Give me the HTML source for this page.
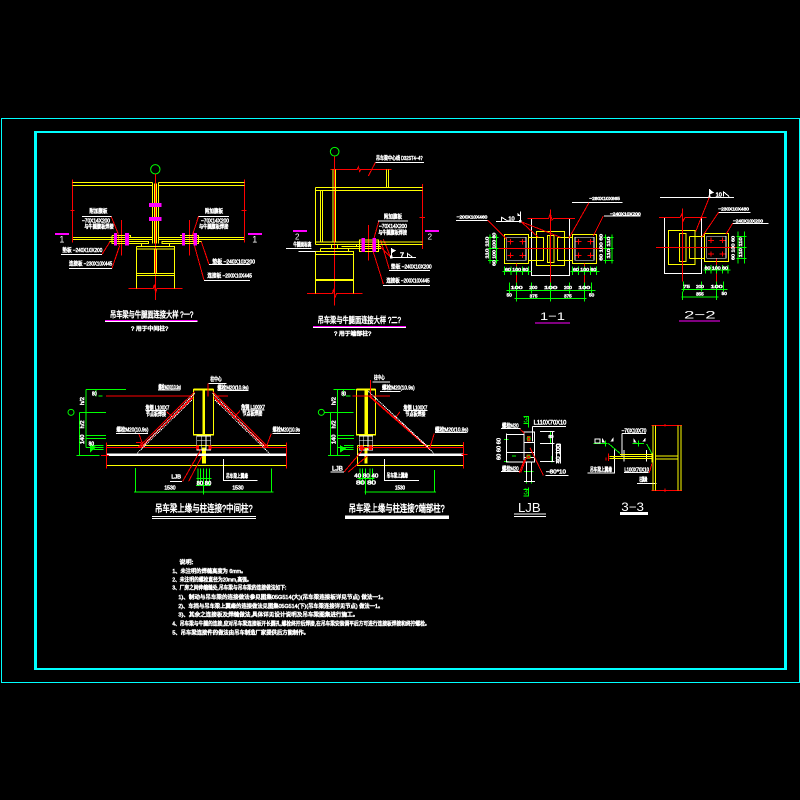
<!DOCTYPE html>
<html><head><meta charset="utf-8"><style>
html,body{margin:0;padding:0;background:#000;width:800px;height:800px;overflow:hidden}
svg{display:block}
text{font-family:"Liberation Sans","Noto Sans CJK SC",sans-serif;fill:#fff;stroke:#fff;stroke-width:1.6}
.y{stroke:#ff0;stroke-width:3;fill:none}
.r{stroke:#f00;stroke-width:3;fill:none}
.g{stroke:#0f0;stroke-width:3;fill:none}
.w{stroke:#fff;stroke-width:3;fill:none}
.m{fill:#f0f;stroke:none}
.l{font-size:17px}
.t{font-size:25px}
.c{font-family:"Liberation Sans",sans-serif;stroke-width:0;font-size:27px}
path,rect{shape-rendering:crispEdges}
</style></head><body>
<svg width="800" height="800" viewBox="0 0 800 800" xmlns="http://www.w3.org/2000/svg">
<rect width="800" height="800" fill="#000"/>
<rect x="1" y="118" width="799" height="1" fill="#0ff"/><rect x="1" y="682" width="799" height="1" fill="#0ff"/>
<rect x="1" y="118" width="1" height="565" fill="#0ff"/><rect x="799" y="118" width="1" height="565" fill="#0ff"/>
<rect x="34" y="131" width="753" height="2" fill="#0ff"/><rect x="34" y="668" width="753" height="2" fill="#0ff"/>
<rect x="34" y="131" width="3" height="539" fill="#0ff"/><rect x="784" y="131" width="3" height="539" fill="#0ff"/>

<!-- Panel 1 -->
<g transform="translate(40,140) scale(.3333)">
<circle cx="346" cy="88" r="14" class="g"/>
<path class="r" d="M346 102V480M97 118V308M91 212H103M614 118V308M604 212H620M244 240V347M448 240V347M265 445H340L343 434L347 458L351 445H428M213 228L234 280L238 320L216 385M186 343L210 305M476 228L456 290L492 420M484 305L507 373"/>
<path class="y" d="M97 127H338M97 136H338M355 127H614M355 136H614M338 127V310M343 130V310M350 130V310M356 127V310M99 292H337M99 299H337M356 292H612M356 299H612M216 286H272V292M216 286V310H326V304H208M420 286H476V292M476 286V310H366V304H484M304 310V320M389 310V320M289 320H404V445M289 320V445M289 327H404M289 400H404M289 407H404M343 327V400M349 327V400"/>
<rect class="m" x="327" y="189" width="38" height="12"/><rect class="m" x="327" y="231" width="38" height="12"/>
<rect class="m" x="222" y="279" width="9" height="38"/><rect class="m" x="255" y="279" width="12" height="38"/>
<rect class="m" x="426" y="279" width="9" height="38"/><rect class="m" x="461" y="279" width="10" height="38"/>
<rect class="m" x="45" y="279" width="42" height="6"/><rect class="m" x="624" y="279" width="42" height="6"/>
<path class="w" d="M126 229H215M476 229H567M63 343H186M87 385H216M507 373H632M492 421H630"/>
<text class="c" x="58" y="308">1</text><text class="c" x="637" y="308">1</text>
<text class="l" x="148" y="219" textLength="54" lengthAdjust="spacingAndGlyphs">附加腹板</text>
<text class="l" x="126" y="248" textLength="84" lengthAdjust="spacingAndGlyphs">−70X14X200</text>
<text class="l" x="133" y="266" textLength="88" lengthAdjust="spacingAndGlyphs">与牛腿腹板焊接</text>
<text class="l" x="495" y="219" textLength="54" lengthAdjust="spacingAndGlyphs">附加腹板</text>
<text class="l" x="483" y="248" textLength="84" lengthAdjust="spacingAndGlyphs">−70X14X200</text>
<text class="l" x="477" y="266" textLength="88" lengthAdjust="spacingAndGlyphs">与牛腿腹板焊接</text>
<text class="l" x="67" y="336" textLength="120" lengthAdjust="spacingAndGlyphs">垫板 −240X10X200</text>
<text class="l" x="87" y="377" textLength="130" lengthAdjust="spacingAndGlyphs">连接板 −230X10X445</text>
<text class="l" x="517" y="370" textLength="128" lengthAdjust="spacingAndGlyphs">垫板 −240X10X200</text>
<text class="l" x="502" y="413" textLength="134" lengthAdjust="spacingAndGlyphs">连接板 −200X10X445</text>
<text class="t" x="210" y="533" textLength="250" lengthAdjust="spacingAndGlyphs">吊车梁与牛腿面连接大样 ?一?</text>
<rect x="195" y="540" width="278" height="3" fill="#f0f"/><rect x="195" y="543" width="278" height="3" fill="#fff"/>
<text class="l" x="273" y="572" textLength="112" lengthAdjust="spacingAndGlyphs">? 用于中间柱?</text>
</g>

<!-- Panel 2 -->
<g transform="translate(270,140) scale(.3333)">
<circle cx="194" cy="35" r="13" class="g"/>
<path class="r" d="M193 50V497M181 88H262L265 80L269 95L272 88H365M295 108L316 68M457 132V327M448 232H465M111 460H187L190 450L195 472L200 460H278M295 255V362M326 245L305 320L340 432M332 300L358 388M325 315L362 352L340 298"/>
<path class="y" d="M136 142H458M136 151H458M136 142V314M151 151V306M158 151V306M189 88V306M197 88V306M349 88V142M356 88V142M136 306H458M136 314H458M184 314V325M203 314V325M268 300H325V335H268ZM214 320H333M214 325H333M259 314V320M151 325H236V334M151 325V334M136 334H251V460M136 334V460M136 343H251M136 418H251M136 422H251"/>
<rect class="m" x="274" y="294" width="11" height="42"/><rect class="m" x="308" y="294" width="10" height="42"/>
<rect class="m" x="69" y="270" width="42" height="6"/><rect class="m" x="465" y="270" width="42" height="6"/>
<path class="w" d="M316 67H462M324 243H414M48 325H125M85 334H136M362 352H438M357 391H480M339 436H480"/>
<path d="M364 324L378 332L364 340Z" fill="#fff"/><rect x="360" y="347" width="8" height="8" fill="#fff"/><path class="w" d="M364 324V350M412 352V340L428 352"/>
<text class="c" x="75" y="299" style="font-size:24px">2</text><text class="c" x="473" y="299" style="font-size:24px">2</text>
<text class="l" x="390" y="352" style="font-size:22px">7</text>
<text class="l" x="318" y="60" textLength="140" lengthAdjust="spacingAndGlyphs">吊车梁中心线 D32ST4−4?</text>
<text class="l" x="342" y="235" textLength="54" lengthAdjust="spacingAndGlyphs">附加腹板</text>
<text class="l" x="327" y="264" textLength="84" lengthAdjust="spacingAndGlyphs">−70X14X200</text>
<text class="l" x="325" y="283" textLength="86" lengthAdjust="spacingAndGlyphs">与牛腿腹板焊接</text>
<text class="l" x="70" y="320" textLength="54" lengthAdjust="spacingAndGlyphs">牛腿面标高</text>
<text class="l" x="363" y="385" textLength="122" lengthAdjust="spacingAndGlyphs">垫板 −240X10X200</text>
<text class="l" x="349" y="428" textLength="130" lengthAdjust="spacingAndGlyphs">连接板 −200X10X445</text>
<text class="t" x="143" y="549" textLength="250" lengthAdjust="spacingAndGlyphs">吊车梁与牛腿面连接大样 ?二?</text>
<rect x="129" y="558" width="279" height="3" fill="#f0f"/><rect x="129" y="561" width="279" height="3" fill="#fff"/>
<text class="l" x="192" y="587" textLength="112" lengthAdjust="spacingAndGlyphs">? 用于端部柱?</text>
</g>

<!-- Sections 1-1, 2-2 -->
<g transform="translate(450,180) scale(.3333)">
<path class="w" d="M18 121H113M138 125H212M366 67H518M462 108H572M244 115V287H358V115M630 52H852M805 97H902M848 130H956M643 112V281H755V112"/>
<path class="y" d="M163 163H236V251H163ZM259 154H344V257H259ZM292 166H312V248H292ZM300 166V248M367 163H440V251H367ZM236 172H281V241H236M322 172H367M322 241H367M322 172V241M655 151H735V253H655ZM688 160H708V245H688ZM718 169H763M718 235H763M718 169V235M763 160H836V244H763Z"/>
<path class="w" d="M170 172H228V241H170ZM375 172H432V241H375ZM770 169H828V235H770Z" style="stroke-width:2"/>
<path class="r" d="M232 115H296L301 100L306 120L311 115H375M302 88V308M143 205H460M113 121L170 178M213 125L265 172M213 125L332 172M356 176L417 68M430 168L460 108M627 113H690L695 103L700 122L705 113H770M697 85V305M618 202H860M800 235V305M199 251V308M403 251V308M737 155L778 52M755 172L806 97M828 163L848 130"/>
<g class="r"><path d="M172 185H190M181 177V193M208 185H226M217 177V193M172 226H190M181 218V234M208 226H226M217 218V234M376 185H394M385 177V193M412 185H430M421 177V193M376 226H394M385 218V234M412 226H430M421 218V234M774 181H792M783 173V189M808 181H826M817 173V189M774 222H792M783 214V230M808 222H826M817 214V230"/></g>
<path class="g" d="M114 172H145M114 205H145M114 241H145M120 163V250M140 163V250M460 172H490M460 205H490M460 241H490M466 163V250M486 163V250M158 275H244M163 260V285M183 260V285M199 260V285M217 260V285M236 260V285M362 275H448M367 260V285M385 260V285M403 260V285M421 260V285M440 260V285M170 331H436M178 308V340M199 308V340M244 308V340M302 308V365M358 308V340M403 308V340M425 308V340M193 355H410M199 340V365M403 340V365M860 169H890M860 202H890M860 235H890M864 155V250M884 155V250M760 270H842M766 255V280M783 255V280M800 255V280M817 255V280M834 255V280M694 328H832M700 305V335M755 305V335M800 305V335M820 305V335M694 351H806M697 335V360M800 335V360"/>
<g class="l" style="font-size:14px">
<text x="20" y="115" textLength="92" lengthAdjust="spacingAndGlyphs">−200X10X460</text>
<text x="418" y="60" textLength="92" lengthAdjust="spacingAndGlyphs">−280X10X665</text>
<text x="480" y="106" textLength="92" lengthAdjust="spacingAndGlyphs">−240X10X200</text>
<text x="805" y="91" textLength="92" lengthAdjust="spacingAndGlyphs">−230X10X480</text>
<text x="849" y="127" textLength="90" lengthAdjust="spacingAndGlyphs">−240X10X200</text>
<text x="165" y="273" textLength="70" lengthAdjust="spacingAndGlyphs">60 100 60</text>
<text x="369" y="273" textLength="70" lengthAdjust="spacingAndGlyphs">60 100 60</text>
<text x="764" y="268" textLength="70" lengthAdjust="spacingAndGlyphs">60 100 60</text>
<text x="182" y="327" textLength="36" lengthAdjust="spacingAndGlyphs">100</text>
<text x="238" y="327" textLength="24" lengthAdjust="spacingAndGlyphs">200</text>
<text x="282" y="327" textLength="40" lengthAdjust="spacingAndGlyphs">100</text>
<text x="342" y="327" textLength="24" lengthAdjust="spacingAndGlyphs">200</text>
<text x="385" y="327" textLength="36" lengthAdjust="spacingAndGlyphs">100</text>
<text x="170" y="350">50</text><text x="417" y="350">50</text>
<text x="239" y="352">375</text><text x="342" y="352">375</text>
<text x="700" y="324" textLength="20" lengthAdjust="spacingAndGlyphs">75</text>
<text x="738" y="324" textLength="24" lengthAdjust="spacingAndGlyphs">200</text>
<text x="782" y="324" textLength="36" lengthAdjust="spacingAndGlyphs">100</text>
<text x="815" y="345">50</text><text x="738" y="347">355</text>
<text transform="translate(116,236) rotate(-90)" textLength="66" lengthAdjust="spacingAndGlyphs">110 110</text>
<text transform="translate(136,258) rotate(-90)" textLength="100" lengthAdjust="spacingAndGlyphs">60 100 100 60</text>
<text transform="translate(458,242) rotate(-90)" textLength="80" lengthAdjust="spacingAndGlyphs">60 100 60</text>
<text transform="translate(480,236) rotate(-90)" textLength="66" lengthAdjust="spacingAndGlyphs">110 110</text>
<text transform="translate(854,240) rotate(-90)" textLength="72" lengthAdjust="spacingAndGlyphs">60 100 60</text>
<text transform="translate(876,232) rotate(-90)" textLength="60" lengthAdjust="spacingAndGlyphs">110 110</text>
</g>
<path d="M203 98L212 108L203 108Z" fill="#fff"/><rect x="207" y="120" width="7" height="8" fill="#fff"/><path class="w" d="M212 95V125M155 124V112L175 124"/>
<text class="l" x="175" y="122">10</text>
<path d="M778 27L792 38L778 44Z" fill="#fff"/><rect x="776" y="46" width="6" height="7" fill="#fff"/><path class="w" d="M779 27V50M820 50V35L838 50"/>
<text class="l" x="797" y="49">10</text>
<text class="c" x="270" y="420" textLength="75" lengthAdjust="spacingAndGlyphs" style="font-size:34px">1−1</text>
<rect class="m" x="255" y="427" width="105" height="4"/>
<text class="c" x="702" y="415" textLength="95" lengthAdjust="spacingAndGlyphs" style="font-size:34px">2−2</text>
<rect class="m" x="687" y="421" width="123" height="4"/>
</g>

<!-- Panel 3 -->
<g transform="translate(70,370) scale(.3333)">
<path class="g" d="M48 58H168M78 58V80M85 78H98M28 127H108M48 58V232M28 127V256M20 256H88M48 196H108M48 206H108M48 232H72M72 226H100M72 232H100M72 238H100M196 294V366M604 295V366M400 296V374M192 366H610M378 347H422M384 296V344M392 296V344M410 296V344M418 296V344M380 325H424"/>
<circle cx="3" cy="127" r="9" class="g"/>
<path d="M60 218L78 232L60 248Z" fill="#0f0"/>
<path class="y" d="M370 58H431V195H370ZM110 226H650M110 286H650" />
<path d="M398 58H405V195H398Z" fill="#ff0"/>
<path d="M396 232H408V280H396Z" fill="#ff0"/>
<path d="M370 56H431V61H370ZM370 192H431V197H370Z" fill="#ff0"/>
<path class="w" d="M380 198H422V240H380ZM394 198V240M408 198V240M380 212H422" style="stroke-width:2"/>
<path d="M110 251H650V258H110Z" fill="#fff"/>
<path class="r" d="M108 78H372M430 78H474M110 232H380M422 232H650M110 217V296M649 217V296M93 257H117M414 41V80M198 217H212L214 232M206 190L220 228M604 190L590 228H584M338 334L392 240M356 334L396 258M290 125L310 143M510 122L490 145M374 65L205 232M428 65L595 232M367 82L215 232M434 82L585 232"/>
<rect x="378" y="226" width="9" height="12" fill="#f00"/><rect x="415" y="226" width="9" height="12" fill="#f00"/>
<path d="M369 83L214 230M433 83L586 230" stroke="#f00" stroke-width="4" fill="none"/>
<path d="M366 90L201 250M435 90L598 250M374 70L218 228M428 70L582 228" stroke="#fff" stroke-width="2.5" stroke-dasharray="4 2" fill="none"/>
<path class="w" d="M415 40H470M264 60H330M442 62H535M138 190H234M608 190H690M226 122H290M514 120H584M300 334H336M460 267V332H563"/>
<g class="l">
<text x="421" y="33" textLength="34" lengthAdjust="spacingAndGlyphs">柱中心</text>
<text x="265" y="57" textLength="68" lengthAdjust="spacingAndGlyphs">螺栓M20(10.9s)</text>
<text x="442" y="59" textLength="94" lengthAdjust="spacingAndGlyphs">螺栓M20(10.9s)</text>
<text x="139" y="184" textLength="96" lengthAdjust="spacingAndGlyphs">螺栓M20(10.9s)</text>
<text x="608" y="184" textLength="82" lengthAdjust="spacingAndGlyphs">螺栓M20(10.9s</text>
<text x="226" y="118" textLength="72" lengthAdjust="spacingAndGlyphs">角钢 L100X7</text>
<text x="228" y="138" textLength="60" lengthAdjust="spacingAndGlyphs">节点板焊接</text>
<text x="513" y="117" textLength="72" lengthAdjust="spacingAndGlyphs">角钢 L100X7</text>
<text x="517" y="136" textLength="60" lengthAdjust="spacingAndGlyphs">节点板焊接</text>
<text x="304" y="326">LJB</text>
<text x="468" y="324" textLength="66" lengthAdjust="spacingAndGlyphs">吊车梁上翼缘</text>
<text x="283" y="358" textLength="34" lengthAdjust="spacingAndGlyphs">1530</text>
<text x="487" y="358" textLength="34" lengthAdjust="spacingAndGlyphs">1530</text>
<text x="380" y="345" textLength="44" lengthAdjust="spacingAndGlyphs">80 80</text>
<text x="66" y="76" textLength="14" lengthAdjust="spacingAndGlyphs">80</text>
<text transform="translate(42,105) rotate(-90)">h/2</text>
<text transform="translate(42,175) rotate(-90)">h/2</text>
<text transform="translate(42,222) rotate(-90)">140</text>
<text x="56" y="226" textLength="16" lengthAdjust="spacingAndGlyphs">80</text>
</g>
<text class="t" x="255" y="426" textLength="293" lengthAdjust="spacingAndGlyphs" style="font-size:30px">吊车梁上缘与柱连接?中间柱?</text>
<path class="w" d="M246 439H558M246 445H558"/>
</g>

<!-- Panel 4 -->
<g transform="translate(300,370) scale(.3333)">
<path class="g" d="M100 58H166M130 58V80M138 78H152M72 127H160M112 58V256M92 127V256M84 256H150M112 196H162M112 206H162M112 232H136M132 226H160M132 232H160M132 238H160M404 300V366M193 366H408M197 296V374M180 296V344M188 296V344M210 296V344M218 296V344M172 325H224"/>
<circle cx="64" cy="127" r="9" class="g"/>
<path d="M120 225L138 236L120 248Z" fill="#0f0"/>
<path class="y" d="M169 58H226V195H169ZM172 226V286H490M172 226H490"/>
<path d="M194 58H204V195H194ZM194 232H202V280H194ZM169 56H226V61H169ZM169 192H226V197H169Z" fill="#ff0"/>
<path d="M172 251H490V258H172Z" fill="#fff"/>
<path class="w" d="M178 198H218V240H178ZM191 198V240M204 198V240M178 212H218" style="stroke-width:2"/>
<path class="r" d="M158 78H270M212 30V80M172 232H490M490 216V296M484 253H502M132 306L192 235M145 306L202 258M403 190L390 232M300 125L285 145"/>
<path d="M208 78L390 238" stroke="#f00" stroke-width="5" fill="none"/>
<rect x="178" y="226" width="11" height="14" fill="#f00"/><rect x="207" y="226" width="11" height="14" fill="#f00"/>
<path d="M205 64L386 232M222 80L402 250" stroke="#fff" stroke-width="2.5" stroke-dasharray="4 2" fill="none"/>
<path class="w" d="M218 36H270M240 64H302M405 187H500M310 122H382M92 306H132M253 267V332H357"/>
<g class="l">
<text x="222" y="29" textLength="32" lengthAdjust="spacingAndGlyphs">柱中心</text>
<text x="246" y="58" textLength="98" lengthAdjust="spacingAndGlyphs">螺栓M20(10.9s)</text>
<text x="405" y="184" textLength="100" lengthAdjust="spacingAndGlyphs">螺栓M20(10.9s)</text>
<text x="310" y="118" textLength="72" lengthAdjust="spacingAndGlyphs">角钢 L100X7</text>
<text x="316" y="138" textLength="60" lengthAdjust="spacingAndGlyphs">节点板焊接</text>
<text x="96" y="301" style="font-size:19px">LJB</text>
<text x="260" y="323" textLength="64" lengthAdjust="spacingAndGlyphs">吊车梁上翼缘</text>
<text x="285" y="359" textLength="30" lengthAdjust="spacingAndGlyphs">1530</text>
<text x="163" y="323" textLength="72" lengthAdjust="spacingAndGlyphs">40 80 40</text>
<text x="168" y="343" textLength="60" lengthAdjust="spacingAndGlyphs">80 80</text>
<text x="124" y="76" textLength="14" lengthAdjust="spacingAndGlyphs">80</text>
<text transform="translate(106,105) rotate(-90)">h/2</text>
<text transform="translate(106,175) rotate(-90)">h/2</text>
<text transform="translate(106,222) rotate(-90)">140</text>
</g>
<text x="146" y="426" textLength="288" lengthAdjust="spacingAndGlyphs" style="font-size:30px">吊车梁上缘与柱连接?端部柱?</text>
<rect x="135" y="437" width="312" height="10" fill="#fff"/>
</g>

<!-- LJB and 3-3 -->
<g transform="translate(480,400) scale(.3333)">
<path class="g" d="M130 50H146V82M130 70H146M130 288H146V262M130 268H146M72 118H85M72 184H85M96 168H108M212 95V130M216 168V188M132 215H160M135 245H165M140 200V250M155 200V250"/>
<path class="g" d="M340 130H382M458 130H492M376 122V140M476 122V140M385 130L420 160M500 132L518 165"/>
<path class="w" d="M79 100V186H132M79 104H132M79 158H132M180 95H224M180 130H224M180 184H224M218 95V184M157 80V125M157 80H258M197 226H266M63 85H122M63 215H118M229 132V190M241 132V190M229 132H241M345 117H360V129H345ZM322 219H404V148M426 100V170H500M426 100H498M432 217H506M471 250H530M432 150V185M499 150V185M132 96H163V186H132ZM132 127H163M132 158H163M132 172H163M140 186V245M155 186V245M132 245H165"/>
<path d="M366 113L376 128L366 128ZM400 112L392 124H400ZM460 113L470 128H460ZM497 112L488 124H497Z" fill="#fff"/>
<path class="r" d="M514 76H606M514 271H606M555 72V80M555 266V276M120 88L133 100M118 218L133 180M150 143L190 226M122 218L140 170M378 172V182M385 160V183M508 218L516 190"/>
<rect x="141" y="108" width="10" height="17" fill="#f00"/><rect x="139" y="163" width="13" height="14" fill="#f00"/>
<circle cx="146" cy="116" r="5" fill="none" stroke="#0f0" stroke-width="2"/><circle cx="146" cy="170" r="5" fill="none" stroke="#0f0" stroke-width="2"/>
<path class="y" d="M519 76V271M527 76V271M594 76V271M603 76V271M527 168H594M527 177H594M388 170H516M388 176H516M420 163H516M402 176V170M448 176H402M486 176H516M516 160V188"/>
<g class="l">
<text x="66" y="82" textLength="50" lengthAdjust="spacingAndGlyphs">螺栓M20</text>
<text x="66" y="212" textLength="50" lengthAdjust="spacingAndGlyphs">螺栓M20</text>
<text x="161" y="74" textLength="98" lengthAdjust="spacingAndGlyphs" style="font-size:20px">L110X70X10</text>
<text x="198" y="221" textLength="60" lengthAdjust="spacingAndGlyphs">−80*10</text>
<text x="425" y="98" textLength="74" lengthAdjust="spacingAndGlyphs">−70X10X70</text>
<text x="330" y="214" textLength="66" lengthAdjust="spacingAndGlyphs">吊车梁上翼缘</text>
<text x="433" y="215" textLength="74" lengthAdjust="spacingAndGlyphs">L100X70X10</text>
<text x="478" y="244" textLength="24" lengthAdjust="spacingAndGlyphs">柱翼缘</text>
<text transform="translate(61,180) rotate(-90)" textLength="66" lengthAdjust="spacingAndGlyphs">60 60 60</text>
<text transform="translate(240,190) rotate(-90)" textLength="58" lengthAdjust="spacingAndGlyphs">40 100</text>
<text x="205" y="114" style="font-size:14px">80</text>
</g>
<text class="c" x="114" y="336" textLength="68" lengthAdjust="spacingAndGlyphs" style="font-size:38px">LJB</text>
<path class="w" d="M102 342H198M102 349H198"/>
<text class="c" x="424" y="333" textLength="68" lengthAdjust="spacingAndGlyphs" style="font-size:36px">3−3</text>
<rect x="420" y="336" width="84" height="9" fill="#fff"/>
<text class="c" x="130" y="68" style="fill:#0f0;font-size:24px">3</text>
<text class="c" x="130" y="284" style="fill:#0f0;font-size:24px">3</text>
</g>

<!-- Notes -->
<g transform="translate(165,555) scale(.3333)">
<g style="font-size:17px">
<text x="43" y="27" textLength="42" lengthAdjust="spacingAndGlyphs">说明:</text>
<text x="22" y="54" textLength="222" lengthAdjust="spacingAndGlyphs">1、未注明的焊缝高度为 6mm。</text>
<text x="22" y="80" textLength="238" lengthAdjust="spacingAndGlyphs">2、未注明的螺栓直径为20mm,高强。</text>
<text x="22" y="104" textLength="342" lengthAdjust="spacingAndGlyphs">3、厂房之间伸缩缝处,吊车梁与吊车梁的连接做法如下:</text>
<text x="40" y="132" textLength="625" lengthAdjust="spacingAndGlyphs">1)、制动与吊车梁的连接做法参见图集05G514(大)(吊车梁连接板详见节点) 做法一1。</text>
<text x="40" y="159" textLength="615" lengthAdjust="spacingAndGlyphs">2)、车挡与吊车梁上翼缘的连接做法见图集05G514(下)(吊车梁连接详见节点) 做法一1。</text>
<text x="40" y="185" textLength="540" lengthAdjust="spacingAndGlyphs">3)、其余之连接板及焊缝做法,具体详见设计说明及吊车梁图集进行施工。</text>
<text x="22" y="212" textLength="772" lengthAdjust="spacingAndGlyphs">4、吊车梁与牛腿的连接,应对吊车梁连接板开长圆孔,螺栓终拧后焊接,在吊车梁安装调平后方可进行连接板焊接和终拧螺栓。</text>
<text x="22" y="238" textLength="410" lengthAdjust="spacingAndGlyphs">5、吊车梁连接件的做法由吊车制造厂家提供后方能制作。</text>
</g>
</g>
</svg>
</body></html>
